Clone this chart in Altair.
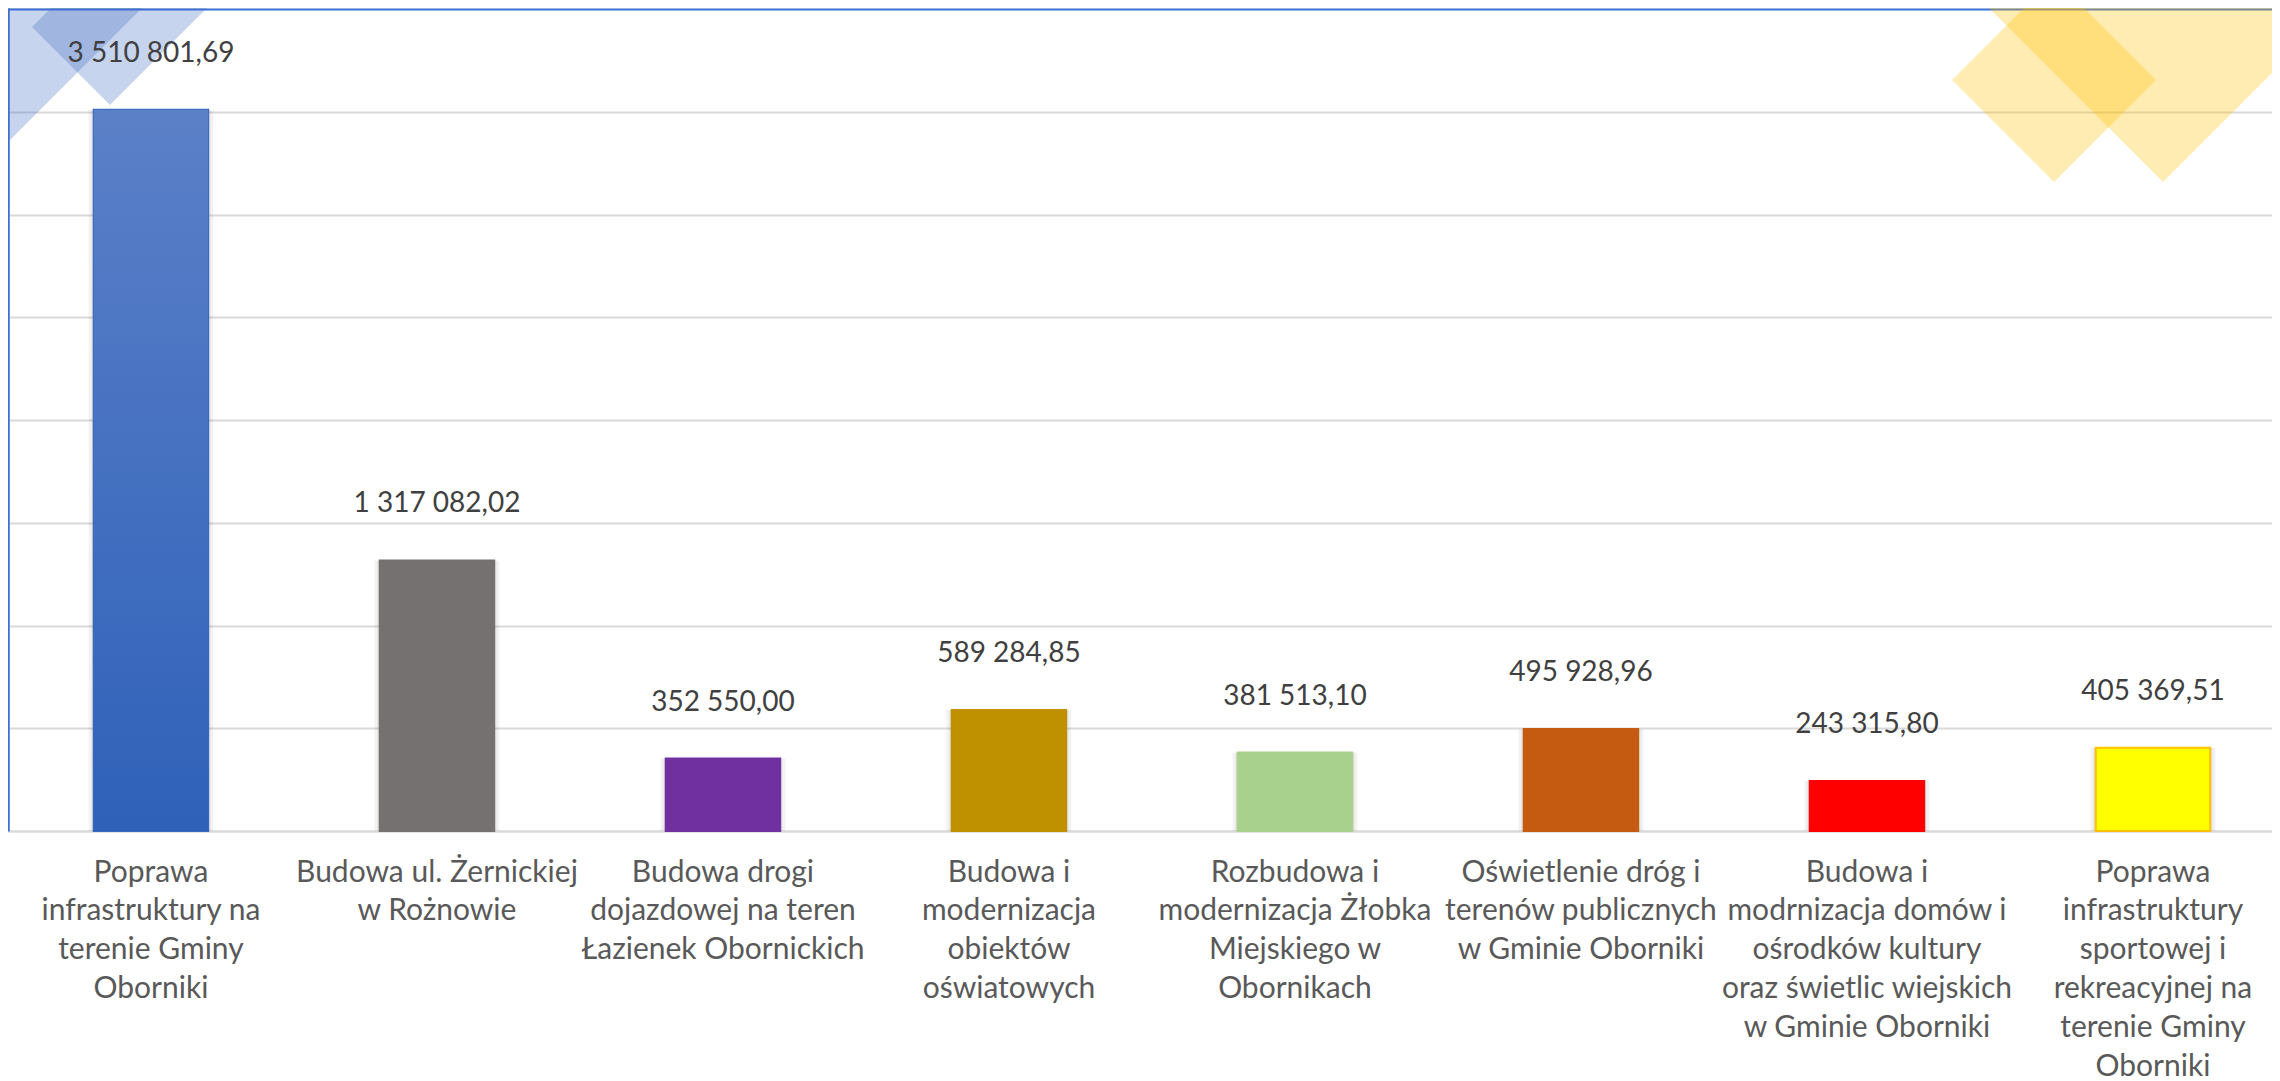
import altair as alt
import pandas as pd

categories = [
    "Poprawa\ninfrastruktury na\nterenie Gminy\nOborniki",
    "Budowa ul. Żernickiej\nw Rożnowie",
    "Budowa drogi\ndojazdowej na teren\nŁazienek Obornickich",
    "Budowa i\nmodernizacja\nobiektów\noświatowych",
    "Rozbudowa i\nmodernizacja Żłobka\nMiejskiego w\nObornikach",
    "Oświetlenie dróg i\nterenów publicznych\nw Gminie Oborniki",
    "Budowa i\nmodrnizacja domów i\nośrodków kultury\noraz świetlic wiejskich\nw Gminie Oborniki",
    "Poprawa\ninfrastruktury\nsportowej i\nrekreacyjnej na\nterenie Gminy\nOborniki",
]
values = [3510801.69, 1317082.02, 352550.00, 589284.85, 381513.10, 495928.96, 243315.80, 405369.51]
bar_colors = ["#3a67bf", "#757171", "#7030a0", "#bf9000", "#a9d18e", "#c55a11", "#ff0000", "#ffff00"]
bar_strokes = ["#3a67bf", "#757171", "#7030a0", "#bf9000", "#a9d18e", "#c55a11", "#ff0000", "#ffc000"]
grid_values = [0, 500000, 1000000, 1500000, 2000000, 2500000, 3000000, 3500000, 4000000]


def pl_format(v):
    return f"{v:,.2f}".replace(",", " ").replace(".", ",")


df = pd.DataFrame({
    "kat": categories,
    "wartosc": values,
    "etykieta": [pl_format(v) for v in values],
})

FRAME = "#3b6fd6"

x_enc = alt.X(
    "kat:N",
    sort=categories,
    scale=alt.Scale(paddingInner=0.6, paddingOuter=0.258, align=0.581),
    axis=alt.Axis(
        title=None,
        labelAngle=0,
        labelLimit=0,
        labelOverlap=False,
        labelBound=False,
        ticks=False,
        tickSize=0,
        labelPadding=26,
        labelFont="Lato",
        labelFontSize=30,
        labelColor="#595959",
        labelLineHeight=38.8,
        labelExpr="split(datum.label, '\\n')",
        domainColor="#d9d9d9",
        domainWidth=2,
        grid=False,
    ),
)
y_enc = alt.Y(
    "wartosc:Q",
    scale=alt.Scale(domain=[0, 4006000], nice=False),
    axis=alt.Axis(
        title=None,
        values=grid_values,
        labels=False,
        ticks=False,
        domainColor=FRAME,
        domainWidth=2.5,
        gridColor=alt.condition("datum.value >= 4000000", alt.value(FRAME), alt.value("#d9d9d9")),
        gridWidth=2,
    ),
)

base = alt.Chart(df)

# decorative translucent diamonds (background ornament of the slide)
blue_shapes = [
    [[-8, -8], [142, -8], [-8, 142], [-8, -8]],
    [[24, 19], [102, 97], [302, -103], [224, -181], [24, 19]],
]
yellow_shapes = [
    [[1944, 72], [2046, 174], [2148, 72], [2046, -30], [1944, 72]],
    [[2155, 174], [1892, -89], [2418, -89], [2155, 174]],
]


def features(rings):
    return [{"type": "Feature", "properties": {}, "geometry": {"type": "Polygon", "coordinates": [r]}} for r in rings]


proj = alt.Projection(type="identity", scale=1, translate=[0, 0])
deco_blue = alt.Chart(alt.Data(values=features(blue_shapes))).mark_geoshape(
    fill="#4472c4", fillOpacity=0.3, strokeWidth=0, strokeOpacity=0
).project(**proj.to_dict())
deco_yellow = alt.Chart(alt.Data(values=features(yellow_shapes))).mark_geoshape(
    fill="#ffc000", fillOpacity=0.3, strokeWidth=0, strokeOpacity=0
).project(**proj.to_dict())

shadow1 = base.mark_bar(color="black", opacity=0.05, width=alt.RelativeBandSize(1.09)).encode(x=x_enc, y=y_enc)
shadow2 = base.mark_bar(color="black", opacity=0.07, width=alt.RelativeBandSize(1.04)).encode(x=x_enc, y=y_enc)

bars = base.mark_bar(strokeWidth=2).encode(
    x=x_enc,
    y=y_enc,
    color=alt.Color("kat:N", scale=alt.Scale(domain=categories, range=bar_colors), legend=None),
    stroke=alt.Stroke("kat:N", scale=alt.Scale(domain=categories, range=bar_strokes), legend=None),
)

grad = alt.LinearGradient(
    gradient="linear",
    stops=[alt.GradientStop(color="#5b80c8", offset=0), alt.GradientStop(color="#2f61b9", offset=1)],
    x1=1, x2=1, y1=0, y2=1,
)
bar_first = base.transform_filter(alt.datum.kat == categories[0]).mark_bar(color=grad).encode(x=x_enc, y=y_enc)

labels = base.mark_text(font="Lato", fontSize=28, color="#404040", dy=-56, baseline="middle").encode(
    x=x_enc, y=y_enc, text="etykieta:N"
)

chart = alt.layer(deco_blue, deco_yellow, shadow1, shadow2, bars, bar_first, labels).properties(
    width=2264,
    height=823,
    padding={"left": 0, "top": 0, "right": 0, "bottom": 250},
    autosize=alt.AutoSizeParams(type="none"),
    background="white",
).configure_view(strokeWidth=0)

chart.save("out.html", embed_options={"renderer": "svg", "actions": False})
